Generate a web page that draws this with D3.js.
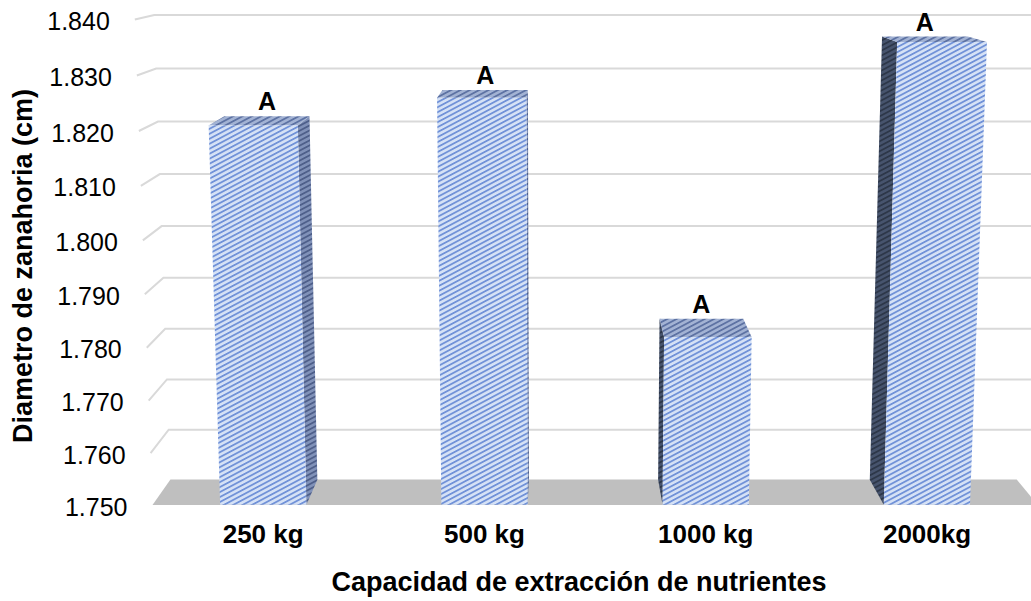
<!DOCTYPE html>
<html>
<head>
<meta charset="utf-8">
<script src="https://cdn.jsdelivr.net/npm/d3@7"></script>
<style>
  html, body { margin: 0; padding: 0; background: #ffffff; }
  svg { display: block; }
</style>
</head>
<body>
<svg id="chart" width="1031" height="601"></svg>
<script>
// ---- data ----
const categories = ["250 kg", "500 kg", "1000 kg", "2000kg"];
const diameters = [1.821, 1.826, 1.782, 1.836];
const groupLetters = ["A", "A", "A", "A"];
const yTicks = [1.750, 1.760, 1.770, 1.780, 1.790, 1.800, 1.810, 1.820, 1.830, 1.840];
const yTickLabels = ["1.750", "1.760", "1.770", "1.780", "1.790", "1.800", "1.810", "1.820", "1.830", "1.840"];
const xTitle = "Capacidad de extracción de nutrientes";
const yTitle = "Diametro de zanahoria (cm)";

// ---- 3D perspective view ----
// x: front-bottom pixel position, h: normalised height (0 floor .. 1 top), z: depth (0 front .. 1 back wall)
const view = { cx: 560, y0: 505, vpY: -77, vvY: 11690, wy: -0.0416, wz: 0.046 };
function project(x, h, z) {
  const w = 1 + view.wy * h + view.wz * z;
  return [view.cx + (x - view.cx) / w,
          (view.y0 + view.wy * view.vvY * h + view.wz * view.vpY * z) / w];
}

const FONT = "'Liberation Sans', Arial, sans-serif";
const svg = d3.select("#chart");

const x = d3.scaleBand().domain(categories).range([152.5, 1037.7]).padding(0);
const h = d3.scaleLinear().domain([1.75, 1.84]).range([0, 1]);
const barFrac = 0.39;
const zFront = 0.01, zBack = 0.99;
const [xMin, xMax] = x.range();

// ---- hatch patterns ----
const defs = svg.append("defs");
function hatch(id, bg, fg) {
  const p = defs.append("pattern")
    .attr("id", id)
    .attr("patternUnits", "userSpaceOnUse")
    .attr("width", 12).attr("height", 4.4)
    .attr("patternTransform", "rotate(-28)");
  p.append("rect").attr("width", 12).attr("height", 4.4).attr("fill", bg);
  p.append("rect").attr("width", 12).attr("height", 1.8).attr("fill", fg);
}
hatch("hFront", "#d6e2f6", "#7192d8");
hatch("hTop", "#a3b3d4", "#5d72a3");
hatch("hRight", "#8192b9", "#4e5f8a");
hatch("hLeft", "#47546e", "#2d3749");

const line = pts => pts.map(p => p.join(",")).join(" ");

// ---- walls: gridlines ----
const grid = svg.append("g");
yTicks.forEach(t => {
  if (t === yTicks[0]) return;
  const a = project(xMin, h(t), 0), b = project(xMin, h(t), 1), c = project(xMax + 40, h(t), 1);
  grid.append("polyline")
    .attr("points", line([a, b, c]))
    .attr("fill", "none")
    .attr("stroke", "#d9d9d9")
    .attr("stroke-width", 2);
});

// ---- floor ----
svg.append("polygon")
  .attr("points", line([project(xMin, 0, 0), project(xMax, 0, 0), project(xMax, 0, 1), project(xMin, 0, 1)]))
  .attr("fill", "#bfbfbf");

// ---- tick labels ----
svg.append("g").selectAll("text")
  .data(yTicks)
  .join("text")
  .attr("x", d => project(xMin, h(d), 0)[0] - 25)
  .attr("y", d => project(xMin, h(d), 0)[1] + 1.5)
  .attr("text-anchor", "end")
  .attr("dominant-baseline", "central")
  .attr("font-family", FONT)
  .attr("font-size", 25)
  .attr("fill", "#000")
  .text((d, i) => yTickLabels[i]);

// ---- bars ----
const bars = svg.append("g");
categories.forEach((cat, i) => {
  const bw = x.bandwidth() * barFrac;
  const xc = x(cat) + x.bandwidth() / 2;
  const xl = xc - bw / 2, xr = xc + bw / 2;
  const top = h(diameters[i]);
  const g = bars.append("g");
  if (xl > view.cx) {
    g.append("polygon")
      .attr("points", line([project(xl, 0, zFront), project(xl, top, zFront), project(xl, top, zBack), project(xl, 0, zBack)]))
      .attr("fill", "url(#hLeft)");
  }
  if (xr < view.cx) {
    g.append("polygon")
      .attr("points", line([project(xr, 0, zFront), project(xr, top, zFront), project(xr, top, zBack), project(xr, 0, zBack)]))
      .attr("fill", "url(#hRight)");
  }
  g.append("polygon")
    .attr("points", line([project(xl, top, zFront), project(xr, top, zFront), project(xr, top, zBack), project(xl, top, zBack)]))
    .attr("fill", "url(#hTop)");
  g.append("polygon")
    .attr("points", line([project(xl, 0, zFront), project(xr, 0, zFront), project(xr, top, zFront), project(xl, top, zFront)]))
    .attr("fill", "url(#hFront)");

  // group letter above the bar
  const lp = project(xc, top, 1);
  svg.append("text")
    .attr("x", lp[0])
    .attr("y", lp[1] - 6)
    .attr("text-anchor", "middle")
    .attr("font-family", FONT)
    .attr("font-weight", "bold")
    .attr("font-size", 25)
    .attr("fill", "#000")
    .text(groupLetters[i]);
});

// ---- category labels ----
svg.append("g").selectAll("text")
  .data(categories)
  .join("text")
  .attr("x", d => x(d) + x.bandwidth() / 2)
  .attr("y", 543)
  .attr("text-anchor", "middle")
  .attr("font-family", FONT)
  .attr("font-weight", "bold")
  .attr("font-size", 26)
  .attr("fill", "#000")
  .text(d => d);

// ---- axis titles ----
svg.append("text")
  .attr("x", 579)
  .attr("y", 591)
  .attr("text-anchor", "middle")
  .attr("font-family", FONT)
  .attr("font-weight", "bold")
  .attr("font-size", 27)
  .attr("fill", "#000")
  .text(xTitle);

svg.append("text")
  .attr("transform", "translate(32,266) rotate(-90)")
  .attr("text-anchor", "middle")
  .attr("font-family", FONT)
  .attr("font-weight", "bold")
  .attr("font-size", 27)
  .attr("fill", "#000")
  .text(yTitle);
</script>
</body>
</html>
